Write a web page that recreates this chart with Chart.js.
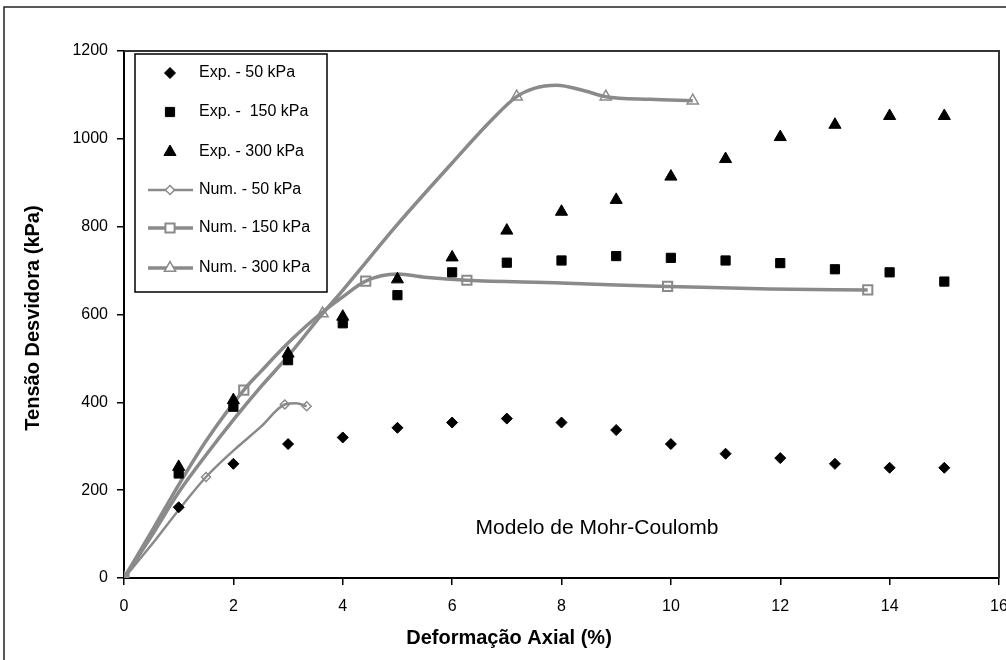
<!DOCTYPE html>
<html>
<head>
<meta charset="utf-8">
<script src="https://cdn.jsdelivr.net/npm/chart.js@4"></script>
<style>
  body { margin: 0; background: #fff; overflow: hidden; }
</style>
</head>
<body>
<canvas id="MohrChart" width="1012" height="660"></canvas>
<script>
// ensaios
const strains = [1, 2, 3, 4, 5, 6, 7, 8, 9, 10, 11, 12, 13, 14, 15];
const exp50 = [161, 260, 305, 320, 342, 354, 363, 354, 337, 305, 283, 273, 260, 251, 251];
const exp150 = [238, 390, 496, 580, 644, 696, 718, 723, 733, 729, 723, 717, 703, 696, 675];
const exp300 = [253, 405, 511, 595, 680, 730, 791, 834, 861, 914, 954, 1004, 1032, 1052, 1052];

// curvas numericas
const num50X = [0, 0.5, 1, 1.5, 2, 2.5, 2.94, 3.15, 3.34];
const num50Y = [0, 75, 155, 230, 290, 344, 395, 398, 391];
const num150X = [0, 0.5, 1, 1.5, 2.19, 2.5, 3, 3.5, 4, 4.42, 5, 5.5, 6.27, 8, 9, 9.94, 11.8, 13.6];
const num150Y = [0, 105, 212, 312, 428, 470, 535, 592, 640, 676, 692, 685, 678, 672, 667, 664, 658, 656];
const num300X = [0, 0.5, 1, 1.5, 2, 2.5, 3, 3.63, 4, 5, 6, 6.7, 7.18, 7.5, 7.91, 8.4, 8.81, 9.62, 10.4];
const num300Y = [0, 95, 195, 280, 360, 435, 505, 602, 655, 805, 945, 1040, 1096, 1115, 1122, 1110, 1096, 1090, 1087];

// pontos marcados nas curvas numericas
const num50MarkX = [0, 1.5, 2.94, 3.34];
const num50MarkY = [0, 230, 395, 391];
const num150MarkX = [0, 2.19, 4.42, 6.27, 9.94, 13.6];
const num150MarkY = [0, 428, 676, 678, 664, 656];
const num300MarkX = [0, 3.63, 7.18, 8.81, 10.4];
const num300MarkY = [0, 602, 1096, 1096, 1087];

const xTicks = [0, 2, 4, 6, 8, 10, 12, 14, 16];
const yTicks = [0, 200, 400, 600, 800, 1000, 1200];

const labels = ["Exp. - 50 kPa", "Exp. -  150 kPa", "Exp. - 300 kPa",
                "Num. - 50 kPa", "Num. - 150 kPa", "Num. - 300 kPa"];

const FONT = "'Liberation Sans', Arial, sans-serif";
const GREY = "#8a8a8a";

const pts = (xs, ys) => xs.map((x, i) => ({ x: x, y: ys[i] }));

const expStyle = (style, r) => ({
  showLine: false,
  pointStyle: style,
  pointRadius: r,
  pointBackgroundColor: "#000",
  pointBorderColor: "#000",
  pointBorderWidth: 1,
});
const markStyle = (style, r, bw) => ({
  showLine: false,
  pointStyle: style,
  pointRadius: r,
  pointBackgroundColor: "#fff",
  pointBorderColor: GREY,
  pointBorderWidth: bw,
});
const lineStyle = (w) => ({
  borderColor: GREY,
  borderWidth: w,
  pointRadius: 0,
  cubicInterpolationMode: "monotone",
  fill: false,
});

// legenda, textos e moldura desenhados no canvas
const decor = {
  id: "decor",
  beforeDraw(chart) {
    const c = chart.ctx;
    c.save();
    c.fillStyle = "#fff";
    c.fillRect(0, 0, chart.width, chart.height);
    c.restore();
  },
  afterDraw(chart) {
    const c = chart.ctx;
    const a = chart.chartArea;
    c.save();
    // plot area top / right
    c.strokeStyle = "#333";
    c.lineWidth = 2;
    c.beginPath();
    c.moveTo(a.left, a.top);
    c.lineTo(a.right, a.top);
    c.lineTo(a.right, a.bottom);
    c.stroke();
    // moldura externa
    c.strokeStyle = "#222";
    c.lineWidth = 1.5;
    c.strokeRect(4, 7, 1100, 800);

    c.fillStyle = "#000";
    c.font = "bold 20px " + FONT;
    c.textAlign = "center";
    c.textBaseline = "middle";
    c.fillText("Deformação Axial (%)", 509, 638);
    c.save();
    c.translate(33, 318);
    c.rotate(-Math.PI / 2);
    c.fillText("Tensão Desvidora (kPa)", 0, 0);
    c.restore();

    c.font = "21px " + FONT;
    c.fillText("Modelo de Mohr-Coulomb", 597, 528);

    // legenda
    c.fillStyle = "#fff";
    c.fillRect(135, 54, 192, 238);
    c.strokeStyle = "#000";
    c.lineWidth = 1.5;
    c.strokeRect(135, 54, 192, 238);
    const rows = [73, 112, 152, 190, 228, 268];
    const sets = chart.data.datasets;
    const legendSets = [sets[0], sets[1], sets[2], sets[6], sets[7], sets[8]];
    const lineSets = [null, null, null, sets[3], sets[4], sets[5]];
    c.font = "16px " + FONT;
    c.textAlign = "left";
    rows.forEach((y, i) => {
      const ls = lineSets[i];
      if (ls) {
        c.strokeStyle = ls.borderColor;
        c.lineWidth = ls.borderWidth;
        c.beginPath();
        c.moveTo(148, y);
        c.lineTo(193, y);
        c.stroke();
      }
      const d = legendSets[i];
      drawMark(c, d.pointStyle, 170, y, d.pointRadius, d.pointBackgroundColor, d.pointBorderColor, d.pointBorderWidth);
      c.fillStyle = "#000";
      c.fillText(labels[i], 199, y);
    });
    c.restore();
  },
};

function drawMark(c, style, x, y, r, fill, stroke, bw) {
  c.beginPath();
  if (style === "rectRot") {
    c.moveTo(x, y - r); c.lineTo(x + r, y); c.lineTo(x, y + r); c.lineTo(x - r, y);
  } else if (style === "rect") {
    const s = r * Math.SQRT1_2;
    c.rect(x - s, y - s, 2 * s, 2 * s);
  } else {
    const h = r * 1.5, hw = r * Math.sin(Math.PI / 3);
    c.moveTo(x, y - r); c.lineTo(x + hw, y - r + h); c.lineTo(x - hw, y - r + h);
  }
  c.closePath();
  c.fillStyle = fill;
  c.fill();
  c.strokeStyle = stroke;
  c.lineWidth = bw;
  c.stroke();
}

new Chart(document.getElementById("MohrChart").getContext("2d"), {
  type: "scatter",
  data: {
    datasets: [
      Object.assign({ label: labels[0], data: pts(strains, exp50) }, expStyle("rectRot", 5.5)),
      Object.assign({ label: labels[1], data: pts(strains, exp150) }, expStyle("rect", 6.5)),
      Object.assign({ label: labels[2], data: pts(strains, exp300) }, expStyle("triangle", 7)),
      Object.assign({ label: labels[3], data: pts(num50X, num50Y), showLine: true }, lineStyle(2.5)),
      Object.assign({ label: labels[4], data: pts(num150X, num150Y), showLine: true }, lineStyle(3.5)),
      Object.assign({ label: labels[5], data: pts(num300X, num300Y), showLine: true }, lineStyle(3.5)),
      Object.assign({ label: labels[3], data: pts(num50MarkX, num50MarkY) }, markStyle("rectRot", 4.5, 1.5)),
      Object.assign({ label: labels[4], data: pts(num150MarkX, num150MarkY) }, markStyle("rect", 6.5, 2)),
      Object.assign({ label: labels[5], data: pts(num300MarkX, num300MarkY) }, markStyle("triangle", 6.5, 1.5)),
    ],
  },
  options: {
    responsive: false,
    animation: false,
    layout: { padding: { top: 51, right: 13, left: 0, bottom: 0 } },
    plugins: { legend: { display: false }, tooltip: { enabled: false } },
    scales: {
      x: {
        type: "linear",
        min: 0,
        max: 16,
        afterBuildTicks: (s) => { s.ticks = xTicks.map((v) => ({ value: v })); },
        afterFit: (s) => { s.height = 82; s.paddingLeft = 0; s.paddingRight = 0; },
        ticks: { color: "#000", font: { family: FONT, size: 16 }, padding: 12, callback: (v) => String(v) },
        grid: { drawOnChartArea: false, tickLength: 7, color: "#000", lineWidth: 1.5 },
        border: { color: "#000", width: 2 },
      },
      y: {
        min: 0,
        max: 1200,
        afterBuildTicks: (s) => { s.ticks = yTicks.map((v) => ({ value: v })); },
        afterFit: (s) => { s.width = 124; },
        ticks: { color: "#000", font: { family: FONT, size: 16 }, padding: 9, callback: (v) => String(v) },
        grid: { drawOnChartArea: false, tickLength: 7, color: "#000", lineWidth: 1.5 },
        border: { color: "#000", width: 2 },
      },
    },
  },
  plugins: [decor],
});
</script>
</body>
</html>
